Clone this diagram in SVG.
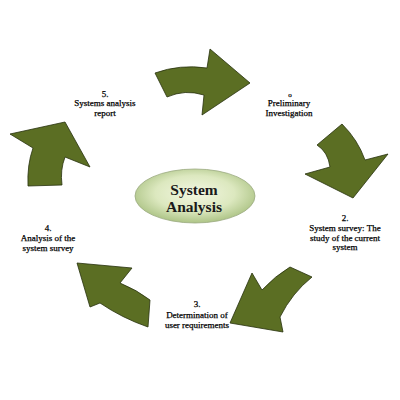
<svg xmlns="http://www.w3.org/2000/svg" width="400" height="400" viewBox="0 0 400 400">
<style>
.arrow{fill:#5b6e23;stroke:#27310e;stroke-width:0.8;stroke-linejoin:miter}
.lbl{font-family:"Liberation Serif","Times New Roman",serif;font-size:9px;fill:#000;stroke:#000;stroke-width:0.25;text-anchor:middle}
.ctr{font-family:"Liberation Serif","Times New Roman",serif;font-size:15.5px;font-weight:bold;fill:#1a1a1a;text-anchor:middle}
</style>
<defs>
<radialGradient id="eg" cx="50%" cy="45%" r="55%">
<stop offset="0" stop-color="#f3f7e2"/>
<stop offset="0.6" stop-color="#dce8bf"/>
<stop offset="1" stop-color="#adc486"/>
</radialGradient>
</defs>
<rect width="400" height="400" fill="#fff"/>
<g id="connectors">
<path class="arrow" d="M155,73 Q180,64 207,68 L210,49 L250,83 L202,115 L204,95 Q185,89 167,97 Z"/>
<path class="arrow" d="M317,145 L342,124 Q358,140 365,160 L388,154 L353,198 L305,174 L330,167 Q328,152 317,145 Z"/>
<path class="arrow" d="M290,267 L312,277 Q292,293 280,317 L283,332 L230,323 L252,273 L262,290 Q275,276 290,267 Z"/>
<path class="arrow" d="M77,263 L132,268 L120,283 Q137,290 150,300 L148,327 Q122,318 100,303 L90,307 Z"/>
<path class="arrow" d="M10,134 L65,122 L90,167 L65,157 Q60,170 62,185 L28,186 Q27,165 33,148 Z"/>
</g>
<g id="center">
<ellipse cx="195" cy="196" rx="60" ry="27" fill="url(#eg)" stroke="#9aaa80" stroke-width="0.8"/>
<text class="ctr" x="194" y="195">System</text>
<text class="ctr" x="194" y="212">Analysis</text>
</g>
<g id="step1">
<text class="lbl" x="290" y="97" style="font-size:7px">o</text>
<text class="lbl" x="289" y="106">Preliminary</text>
<text class="lbl" x="289" y="116">Investigation</text>
</g>
<g id="step2">
<text class="lbl" x="345" y="221">2.</text>
<text class="lbl" x="345" y="231">System survey: The</text>
<text class="lbl" x="345" y="241">study of the current</text>
<text class="lbl" x="345" y="250">system</text>
</g>
<g id="step3">
<text class="lbl" x="197" y="307">3.</text>
<text class="lbl" x="197" y="318">Determination of</text>
<text class="lbl" x="197" y="328">user requirements</text>
</g>
<g id="step4">
<text class="lbl" x="48" y="231">4.</text>
<text class="lbl" x="48" y="241">Analysis of the</text>
<text class="lbl" x="48" y="251">system survey</text>
</g>
<g id="step5">
<text class="lbl" x="105" y="97">5.</text>
<text class="lbl" x="105" y="106">Systems analysis</text>
<text class="lbl" x="105" y="116">report</text>
</g>
</svg>
